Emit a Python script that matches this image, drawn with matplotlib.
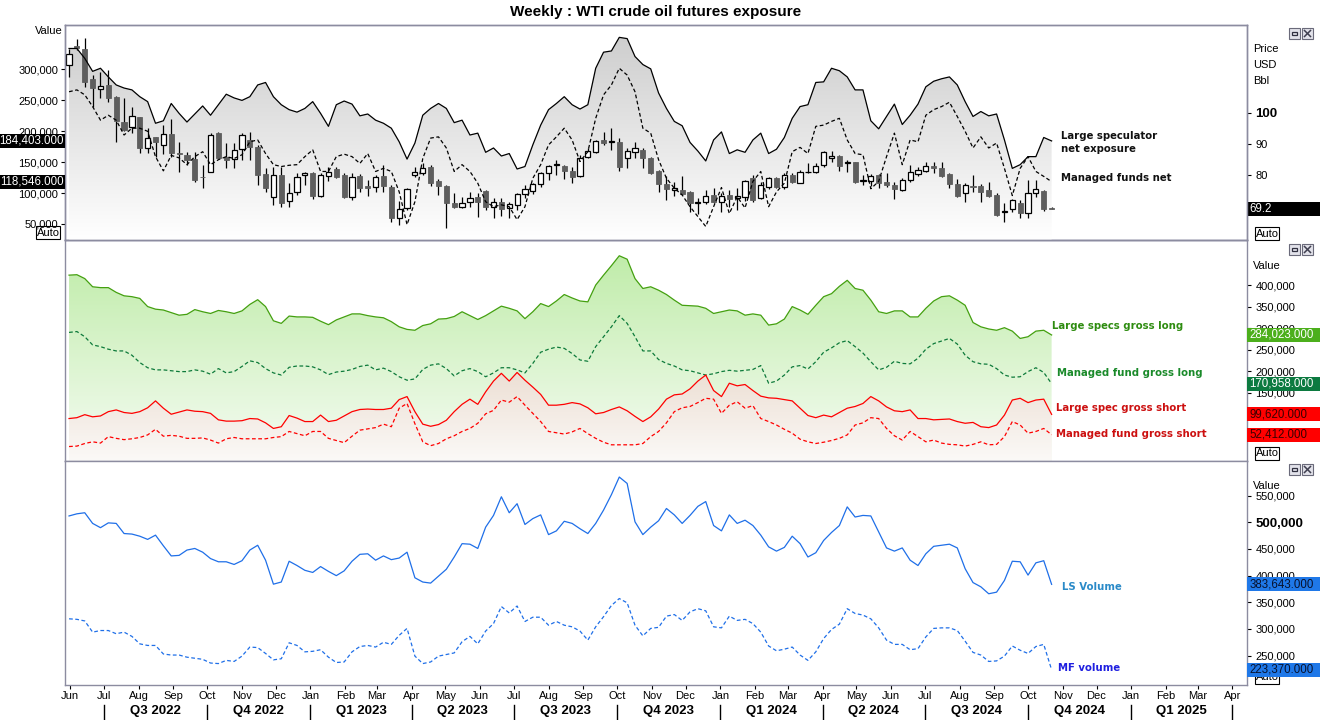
import matplotlib
matplotlib.use("Agg")
import matplotlib.pyplot as plt
import matplotlib.dates as mdates
import matplotlib.transforms as mtrans
from matplotlib.colors import to_rgb
from matplotlib.patches import Rectangle
from matplotlib.lines import Line2D
from matplotlib.ticker import FuncFormatter
import numpy as np
import pandas as pd

plt.rcParams['font.family'] = ['Liberation Sans', 'DejaVu Sans']

# weekly COT report dates
dates = pd.date_range('2022-05-31', periods=126, freq='7D')

# WTI weekly candles (USD/bbl)
opens = [115.2, 121.3, 120.5, 110.7, 107.6, 109.0, 105.1, 97.1, 95.5, 98.7,
         88.6, 92.1, 89.7, 93.1, 87.2, 86.5, 85.2, 79.5, 80.9, 93.6,
         85.7, 85.1, 88.4, 91.3, 89.1, 80.4, 73.2, 80.1, 71.8, 74.8,
         80.1, 80.6, 73.5, 79.9, 82.0, 80.1, 73.2, 79.9, 76.6, 76.3,
         79.9, 76.3, 66.5, 69.4, 80.1, 80.6, 82.7, 78.3, 76.6, 71.3,
         70.0, 71.6, 73.2, 75.0, 70.0, 71.6, 69.6, 70.5, 74.0, 75.0,
         77.1, 80.6, 83.3,
         83.1, 81.5, 79.9, 85.9, 87.3, 91.3, 90.5, 90.7, 85.4, 87.5,
         88.1, 85.4, 81.4, 77.1, 75.4, 75.3, 74.8, 71.2, 71.6, 73.7,
         71.6, 73.7, 72.6, 73.2, 79.2, 72.6, 76.3, 79.2, 76.3, 80.1,
         77.7, 80.9, 80.9, 83.3, 85.6, 86.3, 83.8, 84.1, 78.3, 78.2,
         80.1, 77.9, 76.9, 75.3, 78.5, 80.3, 81.5, 83.1, 82.2, 80.3,
         77.1, 74.2, 76.6, 76.7, 75.3, 73.7, 68.4, 69.2, 71.3, 68.1,
         74.2, 75.0, 69.6]
highs = [120.5, 123.5, 124.0, 112.0, 113.1, 113.6, 105.3, 104.6, 101.9, 98.7,
         95.0, 92.1, 96.1, 98.0, 90.5, 87.5, 87.5, 83.3, 93.4, 93.9,
         90.2, 90.2, 93.4, 93.9, 89.7, 82.4, 82.7, 82.7, 77.7, 80.6,
         81.1, 80.9, 80.6, 82.7, 82.7, 80.6, 80.6, 80.3, 78.5, 80.1,
         83.3, 76.9, 71.8, 75.8, 82.7, 83.8, 83.3, 78.8, 76.9, 74.2,
         73.2, 74.7, 74.2, 75.3, 72.6, 72.6, 71.6, 74.2, 76.9, 77.4,
         81.1, 83.3, 84.9,
         83.3, 82.7, 86.5, 88.6, 91.3, 93.9, 95.0, 91.8, 88.6, 90.7,
         88.6, 85.9, 81.7, 79.9, 78.0, 79.9, 75.0, 72.6, 75.3, 75.8,
         74.5, 75.3, 75.8, 78.5, 80.1, 78.0, 79.5, 79.5, 80.6, 80.6,
         81.7, 83.8, 83.8, 87.7, 87.7, 86.5, 84.9, 84.3, 80.1, 80.3,
         80.3, 80.6, 77.9, 79.0, 83.3, 82.7, 84.3, 84.3, 84.1, 80.6,
         78.8, 77.4, 80.1, 77.1, 78.0, 74.2, 71.0, 72.4, 72.1, 78.5,
         78.5, 75.3, 69.8]
lows = [111.5, 120.0, 108.3, 101.9, 104.6, 103.5, 90.7, 94.1, 93.4, 87.0,
        87.0, 85.9, 86.7, 85.9, 81.1, 83.3, 78.0, 76.0, 80.9, 85.4,
        82.2, 82.4, 84.9, 84.9, 76.9, 74.8, 70.5, 70.0, 70.0, 73.7,
        76.9, 72.4, 73.2, 78.2, 79.0, 72.6, 72.1, 74.8, 73.5, 74.8,
        74.8, 65.0, 64.1, 68.9, 79.5, 80.1, 76.7, 73.7, 63.2, 69.6,
        69.4, 70.0, 66.8, 68.9, 66.4, 67.1, 66.2, 68.9, 72.6, 73.9,
        76.3, 78.5, 80.1,
        78.8, 77.4, 79.5, 85.4, 87.0, 89.7, 88.1, 81.4, 82.2, 85.6,
        82.2, 80.3, 74.7, 72.1, 73.5, 73.7, 68.4, 67.5, 70.7, 71.0,
        68.4, 70.0, 68.9, 71.8, 71.6, 72.4, 75.6, 75.8, 75.6, 77.4,
        77.4, 80.6, 80.6, 82.7, 84.3, 81.4, 81.1, 77.7, 76.9, 76.7,
        76.0, 76.3, 72.4, 75.0, 77.9, 79.9, 81.1, 80.6, 79.5, 75.8,
        73.2, 71.6, 74.7, 71.6, 73.2, 67.1, 65.2, 68.4, 66.4, 66.2,
        73.2, 68.6, 69.1]
closes = [118.9, 120.8, 109.7, 107.8, 108.6, 104.8, 97.3, 94.5, 98.9, 88.8,
          92.0, 90.7, 93.1, 87.0, 86.7, 84.9, 78.5, 79.3, 92.9, 85.6,
          84.9, 88.1, 92.9, 89.1, 80.1, 76.0, 80.1, 71.0, 74.2, 79.5,
          80.6, 73.5, 80.1, 81.1, 79.5, 73.2, 79.5, 76.0, 76.1, 79.5,
          76.7, 66.4, 69.2, 75.5, 81.1, 82.4, 77.6, 76.6, 71.3, 70.0,
          71.3, 72.6, 71.6, 70.0, 71.6, 69.1, 70.7, 73.9, 75.5, 77.1,
          80.6, 83.0, 83.5,
          81.5, 79.5, 85.4, 87.7, 90.9, 90.2, 90.9, 82.7, 87.7, 88.8,
          85.4, 80.6, 77.1, 75.6, 75.8, 73.9, 71.0, 71.3, 73.5, 71.6,
          73.5, 72.4, 73.5, 78.2, 72.1, 76.9, 79.2, 76.3, 80.1, 77.9,
          81.1, 81.1, 83.1, 87.3, 86.3, 83.1, 84.3, 78.0, 78.5, 79.9,
          77.7, 76.9, 75.6, 78.5, 80.9, 81.7, 83.1, 82.2, 79.9, 77.1,
          73.5, 76.9, 76.2, 74.8, 73.5, 67.3, 68.6, 72.1, 68.1, 74.2,
          75.6, 69.2, 69.2]

# net exposure, thousands of contracts
ls_net = [334, 334, 318, 297, 302, 288, 275, 270, 267, 256,
          248, 213, 217, 245, 229, 215, 228, 241, 226, 243,
          260, 254, 250, 256, 275, 279, 256, 243, 235, 231,
          237, 248, 229, 208, 243, 249, 244, 225, 228, 218,
          213, 205, 183, 155, 181, 226, 237, 245, 237, 214,
          218, 194, 197, 166, 173, 160, 164, 139, 143, 178,
          210, 235, 245, 256,
          243, 236, 243, 302, 328, 330, 352, 350, 321, 308,
          301, 262, 237, 216, 209, 182, 168, 152, 186, 199,
          164, 170, 166, 186, 197, 164, 171, 190, 221, 240,
          243, 279, 280, 302, 298, 288, 267, 267, 217, 204,
          224, 244, 211, 226, 244, 272, 281, 285, 288, 275,
          248, 224, 232, 225, 228, 186, 140, 146, 159, 159,
          190, 184.403]
mf_net = [264, 267, 259, 240, 218, 226, 218, 194, 205, 205,
          200, 159, 136, 161, 157, 146, 159, 167, 146, 154,
          159, 156, 162, 183, 186, 164, 146, 143, 145, 146,
          159, 170, 135, 135, 159, 163, 159, 148, 164, 135,
          140, 135, 102, 49, 86, 156, 189, 191, 173, 135,
          146, 135, 116, 86, 78, 81, 78, 57, 78, 124,
          146, 178, 191, 205,
          186, 151, 167, 221, 259, 275, 302, 291, 264, 205,
          197, 154, 124, 108, 97, 78, 62, 46, 78, 109,
          67, 94, 76, 119, 135, 78, 102, 116, 167, 174,
          164, 208, 210, 216, 221, 186, 164, 162, 107, 119,
          159, 197, 146, 186, 183, 226, 235, 240, 247, 224,
          200, 173, 191, 173, 181, 140, 96, 140, 159, 135,
          127, 118.546]

# gross positions, thousands of contracts
ls_long = [423, 424, 415, 396, 394, 394, 383, 375, 373, 369,
           350, 344, 342, 336, 330, 332, 343, 338, 334, 341,
           338, 334, 340, 355, 366, 350, 317, 311, 328, 326,
           326, 325, 316, 308, 319, 326, 333, 333, 329, 326,
           324, 315, 303, 297, 295, 306, 310, 321, 322, 327,
           338, 329, 320, 329, 340, 351, 346, 340, 322, 338,
           357, 350, 363, 378, 370, 363, 361, 400, 423, 445,
           468, 460, 415, 392, 396, 388, 378, 365, 353, 352,
           351, 346, 334, 338, 342, 340, 330, 333, 330, 307,
           310, 321, 350, 342, 332, 353, 373, 380, 397, 411,
           392, 388, 365, 338, 334, 340, 340, 326, 326, 346,
           363, 373, 375, 365, 353, 313, 303, 298, 295, 301,
           293, 276, 280, 293, 295, 284.023]
mf_long = [290, 292, 280, 261, 257, 251, 247, 247, 237, 220,
           208, 203, 203, 201, 199, 199, 203, 200, 193, 206,
           196, 199, 211, 224, 220, 206, 196, 191, 209, 212,
           212, 210, 203, 192, 198, 200, 204, 211, 214, 203,
           207, 199, 187, 179, 182, 204, 214, 217, 206, 189,
           201, 206, 199, 187, 196, 208, 208, 203, 196, 218,
           244, 251, 256, 253, 241, 226, 223, 257, 280, 303,
           329, 311, 280, 247, 247, 227, 218, 212, 203, 201,
           196, 191, 194, 199, 202, 200, 202, 204, 213, 172,
           177, 191, 210, 213, 205, 222, 244, 254, 266, 271,
           257, 242, 222, 203, 209, 223, 218, 217, 230, 251,
           264, 270, 276, 263, 237, 222, 217, 216, 206, 191,
           186, 187, 199, 208, 197, 170.958]
ls_short = [90, 92, 99, 94, 96, 106, 110, 104, 102, 106,
            115, 131, 114, 100, 105, 110, 107, 106, 102, 87,
            84, 84, 85, 90, 89, 80, 67, 71, 97, 91,
            83, 83, 98, 83, 86, 96, 106, 111, 112, 111,
            111, 114, 134, 141, 106, 77, 72, 76, 86, 106,
            123, 135, 123, 152, 177, 195, 177, 197, 179, 163,
            146, 121, 121, 123, 127, 124, 115, 101, 104, 111,
            117, 108, 95, 83, 94, 112, 135, 145, 147, 159,
            177, 191, 155, 141, 172, 166, 169, 155, 142, 138,
            137, 134, 131, 114, 97, 92, 98, 94, 104, 114,
            118, 125, 141, 131, 117, 108, 106, 110, 90, 90,
            87, 88, 89, 83, 79, 81, 71, 69, 75, 98,
            133, 137, 127, 133, 135, 99.62]
mf_short = [25, 26, 32, 36, 33, 48, 44, 41, 43, 46,
            52, 65, 49, 51, 49, 44, 44, 45, 40, 33,
            43, 46, 43, 43, 43, 43, 46, 48, 60, 55,
            50, 60, 60, 44, 39, 34, 49, 63, 66, 69,
            77, 71, 114, 125, 78, 36, 27, 32, 43, 50,
            60, 67, 79, 101, 109, 133, 128, 141, 121, 102,
            83, 60, 57, 54, 59, 67, 55, 44, 35, 29,
            29, 29, 29, 32, 48, 60, 80, 106, 115, 118,
            127, 137, 135, 102, 121, 129, 114, 120, 90, 83,
            75, 65, 56, 42, 36, 32, 35, 39, 44, 52,
            75, 80, 92, 90, 67, 50, 40, 60, 48, 36,
            40, 33, 30, 29, 26, 30, 36, 29, 30, 48,
            83, 75, 56, 60, 67, 52.412]

# volume, thousands of contracts
ls_vol = [512, 516, 518, 498, 490, 499, 498, 479, 478, 474,
          468, 476, 456, 437, 438, 448, 451, 444, 432, 426,
          426, 421, 428, 448, 457, 429, 384, 388, 427, 419,
          410, 406, 417, 408, 400, 409, 427, 440, 441, 429,
          437, 430, 433, 444, 396, 388, 386, 399, 412, 435,
          460, 459, 451, 491, 513, 548, 518, 535, 496, 507,
          514, 477, 484, 502, 498, 488, 479, 498, 523, 552,
          585, 573, 501, 477, 491, 503, 526, 514, 498, 513,
          530, 539, 494, 484, 514, 498, 504, 494, 476, 454,
          446, 453, 474, 460, 435, 443, 466, 481, 494, 529,
          510, 513, 512, 482, 452, 446, 452, 429, 419, 441,
          455, 457, 459, 452, 413, 387, 379, 366, 369, 391,
          427, 426, 401, 424, 428, 383.643]
mf_vol = [319, 318, 315, 294, 297, 297, 291, 294, 286, 272,
          269, 269, 253, 251, 251, 247, 245, 243, 236, 235,
          241, 239, 249, 266, 265, 254, 242, 244, 274, 269,
          257, 258, 261, 247, 237, 238, 257, 267, 269, 266,
          275, 271, 288, 301, 249, 235, 238, 249, 252, 255,
          276, 286, 272, 296, 310, 342, 330, 343, 314, 322,
          322, 307, 314, 307, 304, 296, 279, 304, 323, 344,
          357, 349, 307, 287, 301, 303, 324, 327, 316, 332,
          338, 334, 304, 302, 324, 316, 318, 310, 294, 268,
          259, 262, 266, 251, 241, 257, 282, 299, 309, 338,
          329, 326, 319, 302, 279, 271, 271, 261, 263, 285,
          301, 302, 302, 297, 277, 256, 251, 239, 240, 249,
          268, 260, 254, 267, 271, 223.37]

W, H = 1320, 720
FRAME = '#8c8ca0'
x = mdates.date2num(dates)
XLIM = (x[0] - 3.6, x[0] + 1049)
thousands = FuncFormatter(lambda v, p: f"{v * 1000:,.0f}")


def fx(px):
    return px / W


def fy(py):
    return 1 - py / H


fig = plt.figure(figsize=(13.2, 7.2), dpi=100)


def panel(top, bottom):
    ax = fig.add_axes([fx(65), fy(bottom), fx(1247) - fx(65), fy(top) - fy(bottom)])
    style(ax)
    ax.set_xlim(*XLIM)
    ax.set_xticks([])
    return ax


def style(ax):
    for s in ax.spines.values():
        s.set_color(FRAME)
        s.set_linewidth(1)


def grad_fill(ax, ys, base, c_top, c_bot, zorder, clip_ax=None):
    clip_ax = clip_ax or ax
    poly = clip_ax.fill_between(x, ys, base, facecolor='none', edgecolor='none', lw=0)
    t = np.linspace(0, 1, 256)[:, None, None]
    img = np.array(to_rgb(c_top)) * (1 - t) + np.array(to_rgb(c_bot)) * t
    im = ax.imshow(img, extent=[0, 1, 0, 1], transform=ax.transAxes, aspect='auto',
                   origin='upper', interpolation='bilinear', zorder=zorder)
    im.set_clip_path(poly.get_paths()[0], clip_ax.transData)


def value_box(ax, v, text, fc, tc, side='right'):
    anchor = mtrans.blended_transform_factory(ax.transAxes, ax.transData)
    if side == 'right':
        ax_x, rx, rw, off, ha = 1.0, 0.0, 0.73, 1.5, 'left'
    else:
        ax_x, rx, rw, off, ha = 0.0, -0.65, 0.65, -1.0, 'right'
    tr = fig.dpi_scale_trans + mtrans.ScaledTranslation(ax_x, v, anchor)
    rect = Rectangle((rx, -0.07), rw, 0.14, transform=tr, fc=fc, ec='none', zorder=20, clip_on=False)
    ax.add_artist(rect)
    ax.annotate(text, xy=(ax_x, v), xycoords=anchor, xytext=(off, 0), textcoords='offset points',
                ha=ha, va='center', color=tc, fontsize=8.3, zorder=21, annotation_clip=False)


def auto_box(xl, yt):
    fig.add_artist(Rectangle((fx(xl), fy(yt + 13)), 24 / W, 13 / H, transform=fig.transFigure,
                             fc='white', ec='black', lw=0.8, zorder=-1))
    fig.text(fx(xl + 12), fy(yt + 6.5), 'Auto', ha='center', va='center', fontsize=8, zorder=-1)


def win_buttons(yt):
    for xl in (1289, 1302):
        fig.add_artist(Rectangle((fx(xl), fy(yt + 11)), 11 / W, 11 / H, transform=fig.transFigure,
                                 fc='#e2e2ea', ec='#6a6a7a', lw=0.8))
    fig.add_artist(Rectangle((fx(1292), fy(yt + 7)), 5 / W, 3 / H, transform=fig.transFigure,
                             fc='none', ec='#303040', lw=0.9))
    for a, b in ((2.5, 8.5), (8.5, 2.5)):
        fig.add_artist(Line2D([fx(1304.5), fx(1310.5)], [fy(yt + a), fy(yt + b)],
                              transform=fig.transFigure, color='#404050', lw=1.1))


# ---- top panel: net exposure + price candles ----
ax_e = panel(25, 240)
ax_p = ax_e.twinx()
style(ax_p)
ax_p.set_zorder(1)
ax_e.set_zorder(2)
ax_e.patch.set_visible(False)

grad_fill(ax_p, ls_net, 0, '#cbcbcb', '#ffffff', zorder=1, clip_ax=ax_e)

o, c, hi, lo = map(np.array, (opens, closes, highs, lows))
up = c >= o
body_lo = np.minimum(o, c)
body_h = np.maximum(np.abs(c - o), 0.15)
ax_p.vlines(x, lo, hi, color='black', lw=0.9, zorder=3)
ax_p.bar(x[up], body_h[up], bottom=body_lo[up], width=4.6, color='white',
         edgecolor='black', lw=0.9, zorder=4)
ax_p.bar(x[~up], body_h[~up], bottom=body_lo[~up], width=4.6, color='#5e5e5e',
         edgecolor='#5e5e5e', lw=0.6, zorder=4)

ax_e.plot(x, ls_net, color='black', lw=0.9, zorder=5)
ax_e.plot(x, mf_net, color='black', lw=0.9, ls=(0, (3, 2)), zorder=5)

ax_e.set_ylim(24.1, 372)
ax_e.set_yticks([50, 100, 150, 200, 250, 300])
ax_e.yaxis.set_major_formatter(thousands)
ax_e.tick_params(axis='y', direction='out', length=3, pad=2, labelsize=8)
ax_p.set_ylim(59.33, 128.02)
ax_p.set_yticks([80, 90, 100], labels=['80', '90', '100'])
ax_p.tick_params(axis='y', direction='out', length=3, pad=3, labelsize=8)
lb = ax_p.get_yticklabels()[2]
lb.set_fontweight('bold')
lb.set_fontsize(9.5)

value_box(ax_e, ls_net[-1], f"{ls_net[-1] * 1000:,.3f}", 'black', 'white', side='left')
value_box(ax_e, mf_net[-1], f"{mf_net[-1] * 1000:,.3f}", 'black', 'white', side='left')
value_box(ax_p, closes[-1], f"{closes[-1]:.1f}", 'black', 'white')

# ---- middle panel: gross positions ----
ax2 = panel(240, 461)
grad_fill(ax2, ls_long, -8.6, '#bceba4', '#f6fcf4', zorder=1)
grad_fill(ax2, ls_short, -8.6, '#d7b9a0', '#fbf9f7', zorder=2)
ax2.plot(x, ls_long, color='#44a010', lw=0.9, zorder=4)
ax2.plot(x, mf_long, color='#0d7a3a', lw=0.9, ls=(0, (3, 2)), zorder=4)
ax2.plot(x, ls_short, color='#ff0000', lw=0.9, zorder=4)
ax2.plot(x, mf_short, color='#ff0000', lw=0.9, ls=(0, (3, 2)), zorder=4)
ax2.set_ylim(-8.6, 504.6)
ax2.yaxis.tick_right()
ax2.set_yticks([150, 200, 250, 300, 350, 400])
ax2.yaxis.set_major_formatter(thousands)
ax2.tick_params(axis='y', direction='out', length=3, pad=3, labelsize=8)
value_box(ax2, ls_long[-1], f"{ls_long[-1] * 1000:,.3f}", '#4caf1c', 'white')
value_box(ax2, mf_long[-1], f"{mf_long[-1] * 1000:,.3f}", '#0c7a40', 'white')
value_box(ax2, ls_short[-1], f"{ls_short[-1] * 1000:,.3f}", '#ff0000', '#3a0000')
value_box(ax2, mf_short[-1], f"{mf_short[-1] * 1000:,.3f}", '#ff0000', '#3a0000')

# ---- bottom panel: volume ----
ax3 = panel(461, 685)
ax3.plot(x, ls_vol, color='#1f6fe8', lw=0.9)
ax3.plot(x, mf_vol, color='#1f6fe8', lw=0.9, ls=(0, (3, 2)))
ax3.set_ylim(194.8, 615.1)
ax3.yaxis.tick_right()
ax3.set_yticks([250, 300, 350, 400, 450, 500, 550])
ax3.yaxis.set_major_formatter(thousands)
ax3.tick_params(axis='y', direction='out', length=3, pad=3, labelsize=8)
lb = ax3.get_yticklabels()[5]
lb.set_fontweight('bold')
lb.set_fontsize(9.5)
value_box(ax3, ls_vol[-1], f"{ls_vol[-1] * 1000:,.3f}", '#1f78e8', '#08122e')
value_box(ax3, mf_vol[-1], f"{mf_vol[-1] * 1000:,.3f}", '#1f78e8', '#08122e')

# month / quarter axis
months = pd.date_range('2022-06-01', '2025-04-01', freq='MS')
ax3.set_xticks(mdates.date2num(months))
ax3.set_xticklabels([m.strftime('%b') for m in months], fontsize=8)
ax3.tick_params(axis='x', direction='out', length=3, pad=1.5)
quarters = pd.date_range('2022-07-01', '2025-04-01', freq='QS')
qx = mdates.date2num(quarters)
bt = mtrans.blended_transform_factory(ax3.transData, ax3.transAxes)
for q in qx:
    ax3.plot([q, q], [-0.088, -0.17], transform=bt, color='black', lw=1, clip_on=False)
for a, b, q in zip(qx[:-1], qx[1:], quarters[:-1]):
    ax3.text((a + b) / 2, -0.118, f"Q{q.quarter} {q.year}", transform=bt, ha='center',
             va='center', fontsize=9.5, fontweight='bold')

for ax in (ax_e, ax_p, ax2, ax3):
    ax.set_xlim(*XLIM)
ax_e.set_ylim(24.1, 372)
ax_p.set_ylim(59.33, 128.02)
ax2.set_ylim(-8.6, 504.6)
ax3.set_ylim(194.8, 615.1)

# ---- texts ----
fig.text(fx(656), fy(12), 'Weekly : WTI crude oil futures exposure', ha='center', va='center',
         fontsize=11, fontweight='bold')
fig.text(fx(35), fy(31), 'Value', fontsize=8, va='center')
for s, yy in (('Price', 49), ('USD', 65), ('Bbl', 81)):
    fig.text(fx(1253), fy(yy), s, fontsize=8, va='center')
fig.text(fx(1253), fy(266), 'Value', fontsize=8, va='center')
fig.text(fx(1253), fy(486), 'Value', fontsize=8, va='center')

lab = dict(fontsize=7.3, fontweight='bold', va='center', ha='left', family=['DejaVu Sans'])
fig.text(fx(1061), fy(136), 'Large speculator', color='#111111', **lab)
fig.text(fx(1061), fy(149), 'net exposure', color='#111111', **lab)
fig.text(fx(1061), fy(178), 'Managed funds net', color='#111111', **lab)
fig.text(fx(1052), fy(326), 'Large specs gross long', color='#2e8c10', **lab)
fig.text(fx(1057), fy(373), 'Managed fund gross long', color='#1a8a2a', **lab)
fig.text(fx(1056), fy(408), 'Large spec gross short', color='#cc1010', **lab)
fig.text(fx(1056), fy(434), 'Managed fund gross short', color='#cc1010', **lab)
fig.text(fx(1062), fy(587), 'LS Volume', color='#2a8ac8', **lab)
fig.text(fx(1058), fy(668), 'MF volume', color='#2020e0', **lab)

auto_box(36, 226)
auto_box(1255, 227)
auto_box(1255, 447)
auto_box(1255, 671)
for yt in (28, 244, 464):
    win_buttons(yt)

fig.savefig('out.png', dpi=100, facecolor='white')
